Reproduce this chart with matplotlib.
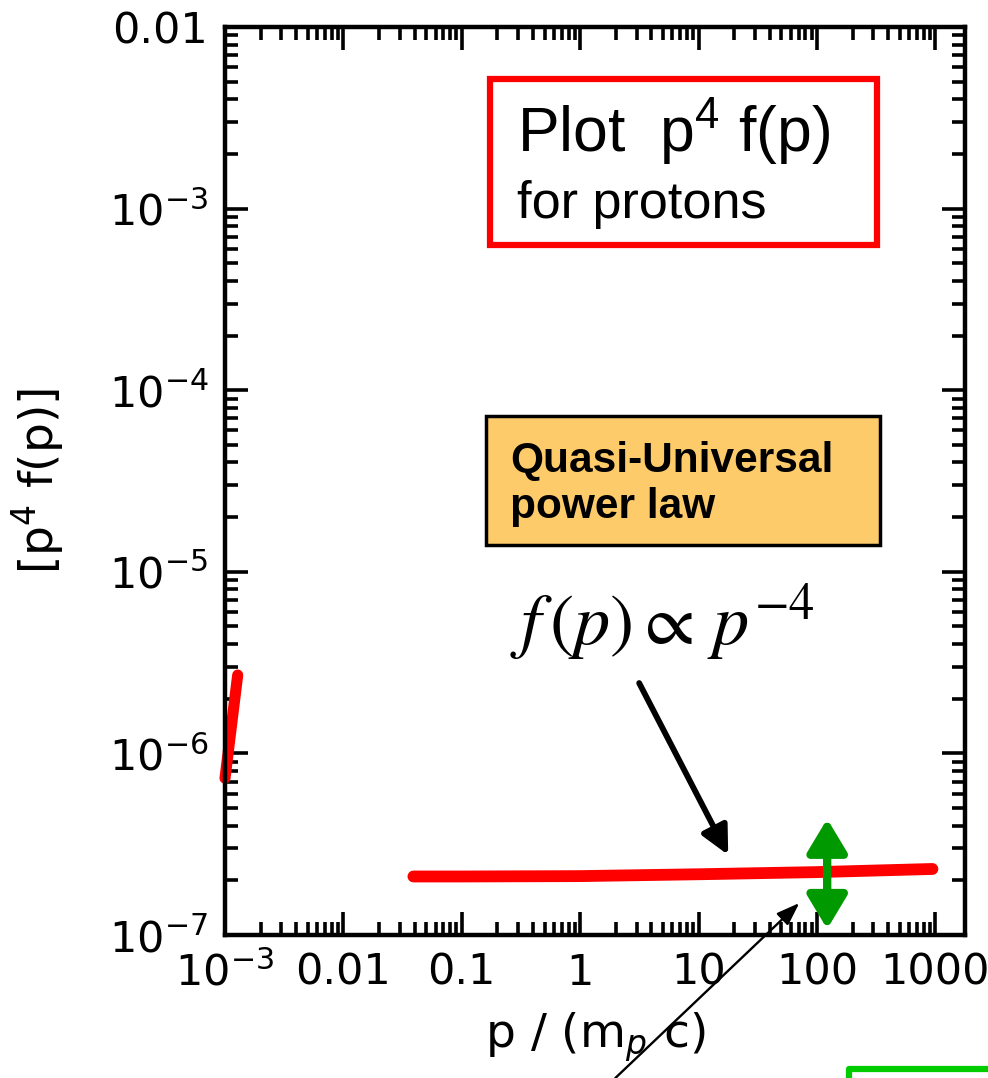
import numpy as np
import matplotlib
matplotlib.use('Agg')
import matplotlib.pyplot as plt
from matplotlib.patches import Rectangle
from matplotlib.lines import Line2D
from matplotlib.ticker import LogLocator, NullFormatter, FixedLocator, FixedFormatter

# red spectrum pieces
main_p = [0.039, 0.1, 1.0, 10.0, 100.0, 945.0]
main_f = [2.10e-7, 2.10e-7, 2.11e-7, 2.16e-7, 2.22e-7, 2.31e-7]
low_p = [1.0e-3, 1.28e-3]
low_f = [7.3e-7, 2.7e-6]

x_ticks = [1e-3, 1e-2, 1e-1, 1, 10, 100, 1000]
x_ticklabels = [r'$10^{-3}$', '0.01', '0.1', '1', '10', '100', '1000']
y_ticks = [1e-7, 1e-6, 1e-5, 1e-4, 1e-3, 1e-2]
y_ticklabels = [r'$10^{-7}$', r'$10^{-6}$', r'$10^{-5}$', r'$10^{-4}$', r'$10^{-3}$', '0.01']

# arrows (tail, head) in data units
green_arrow = ((122, 4.36e-7), (122, 1.08e-7))
black_arrow = ((3.15, 2.44e-6), (17.8, 2.76e-7))
thin_arrow = ((1.98, 1.63e-8), (71, 1.5e-7))

plt.rcParams['font.family'] = 'DejaVu Sans'

fig = plt.figure(figsize=(9.88, 10.78), dpi=100)
ax = fig.add_axes([225/988., 143/1078., 740/988., 908/1078.])

ax.set_xscale('log')
ax.set_yscale('log')
ax.set_xlim(1e-3, 1780)
ax.set_ylim(1e-7, 1e-2)

ax.plot(main_p, main_f, color='#ff0000', lw=8.5, solid_capstyle='round')
ax.plot(low_p, low_f, color='#ff0000', lw=8, solid_capstyle='round', clip_on=False)

ax.xaxis.set_major_locator(FixedLocator(x_ticks))
ax.xaxis.set_major_formatter(FixedFormatter(x_ticklabels))
ax.yaxis.set_major_locator(FixedLocator(y_ticks))
ax.yaxis.set_major_formatter(FixedFormatter(y_ticklabels))
ax.xaxis.set_minor_locator(LogLocator(base=10, subs=np.arange(2, 10), numticks=20))
ax.yaxis.set_minor_locator(LogLocator(base=10, subs=np.arange(2, 10), numticks=20))
ax.xaxis.set_minor_formatter(NullFormatter())
ax.yaxis.set_minor_formatter(NullFormatter())

ax.tick_params(which='both', direction='in', top=True, right=True, width=2.6, labelsize=31)
ax.tick_params(which='major', length=16.5, pad=12)
ax.tick_params(which='minor', length=9.5)
for s in ax.spines.values():
    s.set_linewidth(3.2)

ax.set_xlabel(r'p / (m$_p$ c)', fontsize=34, labelpad=12)
ax.set_ylabel(r'[p$^4$ f(p)]', fontsize=34, labelpad=30)

# boxes
ax.add_patch(Rectangle((0.358, 0.760), 0.523, 0.183, transform=ax.transAxes,
                       facecolor='white', edgecolor='#ff0000', lw=4.5, zorder=3))
ax.text(0.3946, 0.862, r'Plot  p$^{\mathregular{4}}$ f(p)', transform=ax.transAxes,
        fontsize=45, family='Liberation Sans', va='baseline', zorder=4)
ax.text(0.3946, 0.790, 'for protons', transform=ax.transAxes,
        fontsize=37.5, family='Liberation Sans', va='baseline', zorder=4)

ax.add_patch(Rectangle((0.3527, 0.4295), 0.5323, 0.1421, transform=ax.transAxes,
                       facecolor='#fdcb6a', edgecolor='black', lw=2.5, zorder=3))
ax.text(0.385, 0.510, 'Quasi-Universal', transform=ax.transAxes, fontsize=30.5,
        family='Liberation Sans', fontweight='bold', va='baseline', zorder=4)
ax.text(0.385, 0.459, 'power law', transform=ax.transAxes, fontsize=30.5,
        family='Liberation Sans', fontweight='bold', va='baseline', zorder=4)

ax.text(0.385, 0.319, r'$f\,(p) \propto\, p^{-4}$', transform=ax.transAxes,
        fontsize=52, math_fontfamily='stix', va='baseline')

# arrows
ax.annotate('', xy=green_arrow[1], xytext=green_arrow[0],
            arrowprops=dict(arrowstyle='<|-|>,head_length=1.0,head_width=0.6', mutation_scale=20,
                            lw=6, color='#009a00', shrinkA=0, shrinkB=0))
ax.annotate('', xy=black_arrow[1], xytext=black_arrow[0],
            arrowprops=dict(arrowstyle='-|>,head_length=0.85,head_width=0.42', mutation_scale=20,
                            lw=4.2, color='black', shrinkA=0, shrinkB=0))
ax.annotate('', xy=thin_arrow[1], xytext=thin_arrow[0], annotation_clip=False,
            arrowprops=dict(arrowstyle='-|>,head_length=0.7,head_width=0.25', mutation_scale=20,
                            lw=1.7, color='black', shrinkA=0, shrinkB=0))

# green frame corner at bottom right
fig.add_artist(Line2D([849/988., 849/988., 1.0], [0.0, 9/1078., 9/1078.],
                      transform=fig.transFigure, color='#00cc00', lw=4.5))

fig.savefig('out.png', dpi=100)
